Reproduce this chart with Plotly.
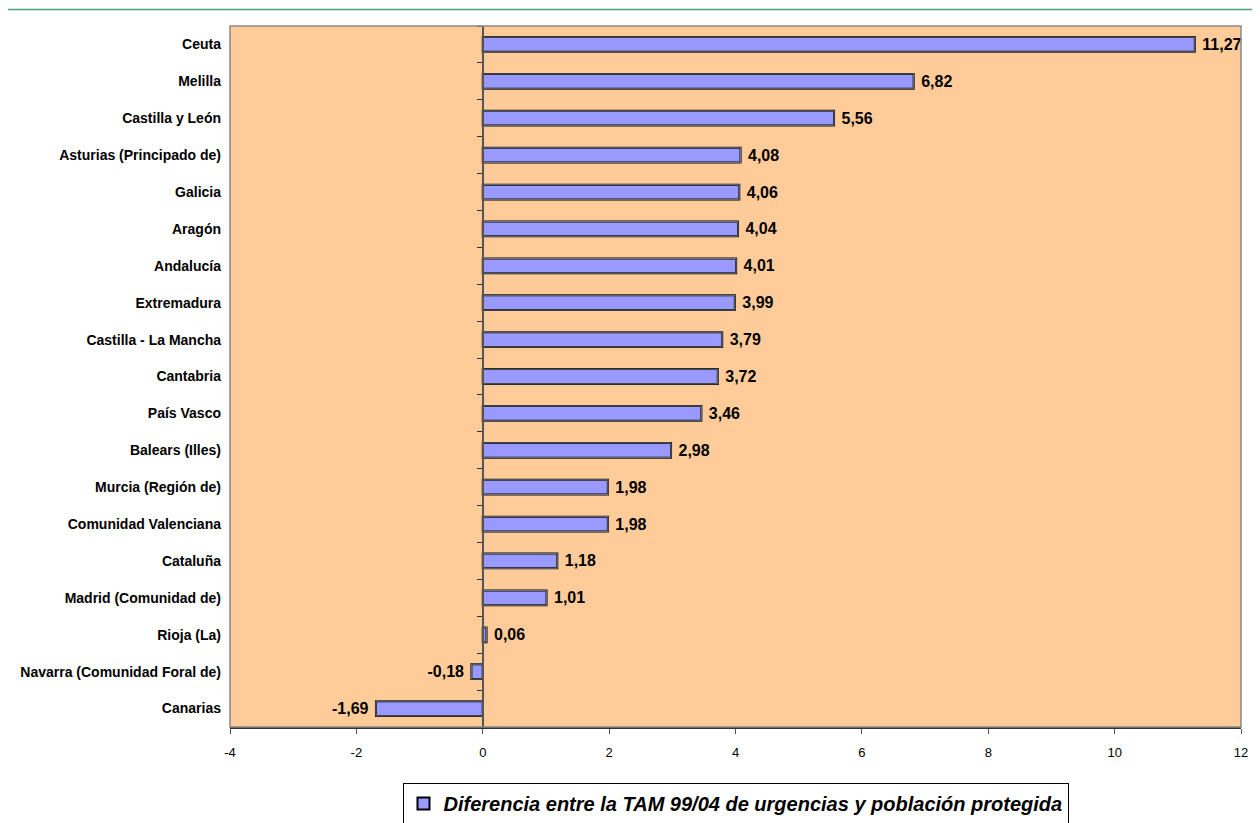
import plotly.graph_objects as go

categories = ["Ceuta", "Melilla", "Castilla y León", "Asturias (Principado de)", "Galicia",
              "Aragón", "Andalucía", "Extremadura", "Castilla - La Mancha", "Cantabria",
              "País Vasco", "Balears (Illes)", "Murcia (Región de)", "Comunidad Valenciana",
              "Cataluña", "Madrid (Comunidad de)", "Rioja (La)", "Navarra (Comunidad Foral de)",
              "Canarias"]
values = [11.27, 6.82, 5.56, 4.08, 4.06, 4.04, 4.01, 3.99, 3.79, 3.72, 3.46, 2.98,
          1.98, 1.98, 1.18, 1.01, 0.06, -0.18, -1.69]
series_name = "Diferencia entre la TAM 99/04 de urgencias y población protegida"
x_ticks = [-4, -2, 0, 2, 4, 6, 8, 10, 12]

nb = "\u00a0"
labels = [(nb + f"{v:.2f}".replace(".", ",")) if v >= 0 else (f"{v:.2f}".replace(".", ",") + nb)
          for v in values]
font = "Liberation Sans Narrow, Arial Narrow, Liberation Sans, Arial, sans-serif"

fig = go.Figure()
fig.add_trace(go.Bar(
    y=categories, x=values, orientation="h", name=series_name,
    marker=dict(color="#9999FF", line=dict(color="black", width=2)),
    text=labels, textposition="outside", cliponaxis=False, constraintext="none",
    textfont=dict(family=font, size=16, color="black", weight="bold"),
    width=0.4,
))
# dummy trace for the zero-line axis with boundary ticks
fig.add_trace(go.Bar(
    y=categories, x=values, orientation="h", yaxis="y2", showlegend=False,
    marker=dict(color="rgba(0,0,0,0)"), hoverinfo="skip", width=0.4,
))

fig.update_layout(
    width=1252, height=815,
    paper_bgcolor="white", plot_bgcolor="#FFCC99",
    margin=dict(l=221, r=18, t=18, b=96),
    barmode="overlay",
    showlegend=True,
    legend=dict(
        orientation="h", x=0.5, xanchor="center",
        yref="container", y=0.049, yanchor="top",
        bordercolor="black", borderwidth=1, bgcolor="white",
        font=dict(family="Liberation Sans, Arial, sans-serif", size=20, color="black",
                  weight="bold", style="italic"),
        itemsizing="constant", itemwidth=30,
    ),
    xaxis=dict(
        range=[-4, 12], tickvals=x_ticks, ticktext=[str(t) for t in x_ticks],
        showgrid=False, zeroline=False,
        showline=True, linecolor="#333333", linewidth=1.5,
        ticks="outside", ticklen=5, tickcolor="#555555",
        ticklabelstandoff=8,
        tickfont=dict(family="Liberation Sans, Arial, sans-serif", size=13, color="black"),
        domain=[0, 1],
    ),
    yaxis=dict(
        categoryorder="array", categoryarray=categories[::-1],
        showgrid=False, zeroline=False, showline=False, ticks="",
        tickfont=dict(family=font, size=14, color="black", weight="bold"),
        ticklabelstandoff=8,
    ),
    yaxis2=dict(
        overlaying="y", anchor="free", position=0.25, matches="y",
        categoryorder="array", categoryarray=categories[::-1],
        showticklabels=False, showgrid=False, zeroline=False,
        showline=True, linecolor="#555555", linewidth=1.5,
        ticks="outside", tickson="boundaries", ticklen=5, tickcolor="#333333",
    ),
    shapes=[
        dict(type="rect", xref="paper", yref="paper", x0=0, x1=1, y0=0, y1=1,
             line=dict(color="#888888", width=1.5), fillcolor="rgba(0,0,0,0)", layer="above"),
        dict(type="line", xref="paper", yref="paper", x0=-0.24, x1=1.03, y0=1.0235, y1=1.0235,
             line=dict(color="#4CA57A", width=1.5)),
    ],
)

fig.write_html("out.html")
